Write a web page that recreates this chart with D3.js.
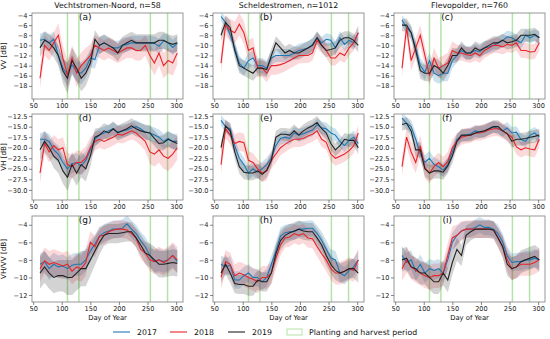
<!DOCTYPE html>
<html>
<head>
<meta charset="utf-8">
<script src="https://cdn.jsdelivr.net/npm/d3@7"></script>
<style>
  body { margin: 0; background: #fff; }
  svg { font-family: "DejaVu Sans", sans-serif; }
</style>
</head>
<body>
<svg id="chart" width="550" height="339"></svg>
<script>
// acquisition days (shared by all series)
var days = [62,70,78,86,94,102,110,118,126,134,142,150,158,166,174,182,190,198,206,214,222,230,238,246,254,262,270,278,286,294,302];

var sites = ["Vechtstromen-Noord, n=58", "Scheldestromen, n=1012", "Flevopolder, n=760"];
var rowLabels = ["VV [dB]", "VH [dB]", "VH/VV [dB]"];
var letters = ["(a)","(b)","(c)","(d)","(e)","(f)","(g)","(h)","(i)"];
var years = ["2017", "2018", "2019"];
var periodDays = [110, 130, 255, 285];
var xTicks = [50, 100, 150, 200, 250, 300];
var vvTicks = [-4, -6, -8, -10, -12, -14, -16, -18];
var vhTicks = [-12.5, -15, -17.5, -20, -22.5, -25, -27.5, -30];
var ratioTicks = [-4, -6, -8, -10, -12];

// (a) VV Vechtstromen-Noord
var a17 = [-9,-8.8,-9.5,-8.8,-12,-14.5,-15.8,-13.8,-15.2,-15.5,-14.5,-12.5,-12.8,-10,-9.5,-10,-10.5,-10.5,-10,-9.8,-9.5,-9.5,-9.5,-9.5,-9.5,-9.6,-10.2,-9.1,-9.5,-10.4,-9.6];
var a18 = [-16.5,-10,-11,-9.5,-8,-12.5,-15.8,-12.5,-15.5,-14,-13,-12,-10,-10.5,-11,-10.5,-11,-11.5,-11,-10.5,-10.5,-11,-11,-10,-12,-13.5,-11.5,-14,-13,-13.5,-11.5];
var a19 = [-10.5,-9,-9.5,-10.5,-12,-15,-16.5,-13,-14.5,-16.5,-15.5,-13.5,-8.8,-10,-9.5,-10,-10.5,-11.5,-10,-9.5,-9,-9.5,-9.5,-9.5,-9.5,-9.5,-9,-9,-9.5,-9.8,-9.5];
var a17sd = [1.3,1.5,1.5,1.6,1.8,2,2.3,2,2,2.2,2,1.8,1.8,1.6,1.5,1.4,1.4,1.4,1.4,1.4,1.4,1.4,1.4,1.4,1.4,1.4,1.5,1.5,1.5,1.5,1.5];
var a18sd = [2,2,2,2,2.3,2.5,2.8,2.5,2.8,2.6,2.5,2.2,2,2,2,2,2,2,2,2,2,2,2,2,2.2,2.4,2.5,2.5,2.5,2.5,2.3];
var a19sd = [1.8,1.8,1.8,1.9,2,2.5,3,2.6,2.6,2.6,2.5,2.2,1.8,1.7,1.7,1.7,1.7,1.7,1.7,1.7,1.7,1.7,1.7,1.7,1.7,1.7,1.7,1.7,1.7,1.7,1.7];

// (b) VV Scheldestromen
var b17 = [-4.3,-5.5,-8,-10.5,-13.5,-14.5,-13,-12.5,-14,-14,-14.5,-12.5,-12,-12,-12,-12,-11.5,-11,-10.8,-10.5,-9.8,-8.5,-9.5,-8.8,-9,-10.5,-8.5,-9.8,-9,-9.5,-7.5];
var b18 = [-13.5,-6,-7,-7.5,-5.8,-7.5,-11,-10.5,-14.5,-14.5,-15.5,-14,-14,-13.8,-13.5,-13,-12.5,-12,-12,-12,-11.5,-9,-10,-11,-12.5,-12.5,-11.5,-12,-10.5,-9.5,-7.5];
var b19 = [-8,-5.5,-6.5,-11,-14,-14.5,-15,-15.5,-14.5,-14.5,-14.8,-12,-9.5,-10.5,-11.5,-11,-11.5,-11.5,-11,-10.5,-10,-8.5,-10,-11,-10.8,-10.5,-9,-8.5,-8.5,-9,-10];
var b17sd = [1,1,1.2,1.3,1.5,1.5,1.5,1.5,1.5,1.5,1.5,1.4,1.3,1.3,1.3,1.3,1.3,1.3,1.3,1.3,1.3,1.2,1.2,1.2,1.2,1.3,1.3,1.3,1.3,1.3,1.3];
var b18sd = [2,2,2.2,2.2,2.2,2.2,2,2,1.8,1.8,1.8,1.8,1.8,1.7,1.6,1.6,1.6,1.6,1.5,1.5,1.5,1.5,1.5,1.5,1.5,1.5,1.5,1.5,1.5,1.5,1.5];
var b19sd = [1.2,1.3,1.4,1.5,1.5,1.5,1.5,1.5,1.5,1.5,1.5,1.4,1.3,1.3,1.3,1.3,1.3,1.3,1.3,1.3,1.3,1.3,1.3,1.3,1.3,1.3,1.3,1.3,1.3,1.3,1.3];

// (c) VV Flevopolder
var c17 = [-5,-6.5,-7.5,-10.5,-14,-15.3,-13,-15.5,-16,-15.5,-15.5,-13,-12,-11,-11.5,-11.5,-11,-11.3,-10.5,-10.3,-10,-9.5,-9,-8.3,-8.5,-9,-9.5,-8,-8.5,-8,-8.5];
var c18 = [-14.5,-6.5,-13,-10.5,-8,-12,-16,-12.5,-14.5,-14,-13.5,-11,-11.5,-11.5,-11.8,-12,-11.5,-12,-11,-10.5,-10,-10,-10.3,-9.8,-10,-9.5,-11,-11,-11.3,-11.2,-9.5];
var c19 = [-6,-6,-7.5,-11,-15,-15.5,-15.5,-14,-14.5,-15.5,-14,-12,-12,-10.5,-11.5,-11.5,-10.5,-11,-10.5,-10,-9.5,-9.5,-9,-9.5,-9.3,-9,-8,-8,-8,-7.8,-8.5];
var c17sd = [1,1.2,1.3,1.4,1.5,1.6,1.6,1.6,1.6,1.6,1.6,1.5,1.4,1.3,1.3,1.3,1.3,1.3,1.3,1.3,1.3,1.3,1.2,1.2,1.2,1.2,1.2,1.2,1.2,1.2,1.2];
var c18sd = [1.8,1.8,2,2,2,2,2,2,2,2,2,1.8,1.6,1.5,1.5,1.5,1.5,1.5,1.5,1.5,1.5,1.5,1.5,1.5,1.5,1.5,1.5,1.5,1.5,1.5,1.5];
var c19sd = [1.2,1.3,1.4,1.5,1.6,1.6,1.6,1.6,1.6,1.6,1.6,1.5,1.4,1.3,1.3,1.3,1.3,1.3,1.3,1.3,1.3,1.3,1.3,1.3,1.3,1.3,1.3,1.3,1.3,1.3,1.3];

// (d) VH Vechtstromen-Noord
var d17 = [-18,-18,-18.5,-20.5,-21.5,-23.5,-25,-23.8,-23.5,-24.3,-23,-20.5,-18,-17,-16.5,-16,-15.5,-16.3,-16,-15.8,-15.3,-15,-15.5,-16.3,-16.5,-17,-17.5,-18.5,-17.8,-18.5,-18.5];
var d18 = [-26,-19,-21,-19.5,-20.5,-20,-24,-24.5,-23.5,-23.5,-22.5,-20,-18.5,-18,-18.5,-18,-17.5,-16.8,-17,-16.5,-16,-16.5,-17.5,-18.5,-21,-21.5,-20.5,-22,-22.5,-21.5,-20];
var d19 = [-20.5,-18.5,-20,-22,-23,-25.5,-27,-24,-26,-24,-25,-22,-17.5,-17,-16,-16.5,-15.5,-16.5,-16,-15.5,-14.8,-15.5,-16,-16.3,-16.5,-17.8,-19,-18.8,-18,-18.5,-19];
var d17sd = [1.5,1.8,1.8,2,2,2,2.2,2.2,2.2,2.2,2.2,2,1.8,1.6,1.5,1.5,1.5,1.5,1.5,1.5,1.5,1.5,1.5,1.6,1.8,1.8,1.8,1.8,1.8,1.8,1.8];
var d18sd = [2.5,2.5,2.5,2.5,2.5,2.5,2.8,2.8,2.8,2.8,2.8,2.5,2.2,2,2,2,2,2,2,2,2,2,2,2.3,2.8,3,3,3,3,3,2.8];
var d19sd = [2.5,2.5,2.5,2.8,3,3,3.2,3,3,3,3,2.5,2,1.8,1.8,1.8,1.8,1.8,1.8,1.8,1.8,1.8,1.8,1.8,1.8,1.8,1.8,1.8,1.8,1.8,1.8];

// (e) VH Scheldestromen
var e17 = [-13.5,-15,-15.5,-19.5,-22.5,-24,-26,-25,-25.8,-25,-24,-22.5,-19.5,-17.8,-17.5,-17.8,-16.5,-17,-16.7,-16.2,-15.8,-14.5,-15.3,-15.5,-16.5,-17,-18.5,-19.5,-18.2,-17.5,-19];
var e18 = [-24,-15.5,-17,-19,-18.5,-18.8,-23,-23.5,-25,-26,-25.5,-23,-21.5,-20,-19.2,-18.5,-18,-18,-17.8,-17.2,-16.8,-16,-18,-18.7,-21.5,-22.5,-22,-21.5,-20.7,-19.5,-16.5];
var e19 = [-20,-14.8,-16,-21,-24.5,-25.8,-26,-26,-25.5,-26.3,-25.3,-23,-17.5,-16.8,-16.8,-17,-16,-17,-16,-15.3,-14.8,-14,-15.5,-16.5,-19,-20.5,-19.5,-18,-18.3,-18.2,-20];
var e17sd = [1.3,1.4,1.5,1.6,1.7,1.7,1.7,1.7,1.7,1.7,1.7,1.6,1.5,1.5,1.5,1.5,1.5,1.5,1.5,1.5,1.5,1.5,1.5,1.5,1.5,1.5,1.5,1.5,1.5,1.5,1.5];
var e18sd = [2.2,2.2,2.2,2.2,2.2,2.2,2.2,2.2,2.2,2.2,2.2,2,2,1.8,1.8,1.8,1.8,1.8,1.8,1.8,1.8,1.8,1.8,1.8,1.8,1.8,1.8,1.8,1.8,1.8,1.8];
var e19sd = [1.4,1.5,1.6,1.7,1.7,1.7,1.7,1.7,1.7,1.7,1.7,1.6,1.5,1.5,1.5,1.5,1.5,1.5,1.5,1.5,1.5,1.5,1.5,1.5,1.5,1.5,1.5,1.5,1.5,1.5,1.5];

// (f) VH Flevopolder
var f17 = [-13,-14.2,-15,-18,-21.5,-23.5,-22.5,-24,-24.5,-25.3,-24,-21,-18,-17.2,-17,-16.7,-16,-16.3,-16.2,-15.5,-15,-15.5,-16,-15.3,-16.5,-16.3,-18,-18.5,-17,-16.5,-17.5];
var f18 = [-24.5,-17.5,-21,-23.5,-19.5,-24.8,-26,-24.5,-23.5,-24.5,-23.3,-20,-18.5,-17.5,-17.2,-17,-16.5,-16.5,-16.2,-15.8,-15.5,-15.5,-16,-16.7,-17.5,-19.8,-20.5,-20,-20.3,-20.5,-18];
var f19 = [-14.5,-14.2,-16,-20.5,-20.5,-25,-26,-25.5,-25.5,-25.8,-24.3,-22,-18.5,-17,-17,-17,-16.5,-16.2,-16,-15.5,-15,-15,-16,-16.7,-18.5,-18,-18,-17.8,-17.5,-17.3,-17];
var f17sd = [1.3,1.4,1.5,1.6,1.7,1.7,1.7,1.7,1.7,1.7,1.7,1.6,1.5,1.4,1.4,1.4,1.4,1.4,1.4,1.4,1.4,1.4,1.4,1.4,1.4,1.4,1.4,1.4,1.4,1.4,1.4];
var f18sd = [2.2,2.2,2.5,2.5,2.5,2.5,2.5,2.3,2.3,2.3,2.3,2,1.8,1.8,1.8,1.8,1.8,1.8,1.8,1.8,1.8,1.8,1.8,1.8,1.8,1.8,1.8,1.8,1.8,1.8,1.8];
var f19sd = [1.4,1.5,1.6,1.7,1.8,1.8,1.8,1.8,1.8,1.8,1.8,1.7,1.5,1.5,1.5,1.5,1.5,1.5,1.5,1.5,1.5,1.5,1.5,1.5,1.5,1.5,1.5,1.5,1.5,1.5,1.5];

// (g) VH/VV Vechtstromen-Noord
var g17 = [-8.5,-8.2,-9,-8.5,-8.8,-8.7,-9,-8.6,-8.5,-8.5,-8,-7,-6.2,-5.3,-4.9,-4.7,-4.5,-4.5,-4.4,-3.9,-4.5,-5,-5.8,-6.5,-7.5,-8.2,-8,-8.2,-8,-7.5,-8.2];
var g18 = [-9,-8.1,-8.5,-8.3,-8.5,-8.7,-8.5,-9.3,-8.8,-9,-8.3,-6,-6.5,-5.3,-5.2,-4.8,-4.6,-4.5,-4.5,-4.6,-5,-5.5,-6.8,-7.2,-8,-8.2,-8,-8.3,-8,-7.5,-8];
var g19 = [-9.5,-8.8,-9.5,-10,-9.8,-9.8,-10,-10,-9.5,-9,-9,-8,-7,-6,-5.2,-5,-5,-5,-4.9,-4.8,-4.8,-5.5,-6.3,-7.2,-7.5,-8,-8.5,-8.5,-8.4,-8.3,-8.4];
var g17sd = [1.2,1.2,1.3,1.3,1.3,1.3,1.3,1.3,1.3,1.3,1.3,1.2,1.1,1,1,1,1,1,1,1,1,1,1,1.1,1.2,1.2,1.3,1.3,1.3,1.3,1.3];
var g18sd = [1.5,1.5,1.5,1.5,1.5,1.5,1.5,1.5,1.5,1.5,1.5,1.3,1.2,1.1,1,1,1,1,1,1,1,1,1.1,1.2,1.3,1.4,1.5,1.5,1.5,1.5,1.5];
var g19sd = [1.8,1.8,1.8,1.8,1.8,1.8,2,2,2,2,2,1.8,1.6,1.4,1.2,1.1,1.1,1.1,1.1,1.1,1.1,1.1,1.2,1.3,1.4,1.5,1.5,1.5,1.5,1.5,1.5];

// (h) VH/VV Scheldestromen
var h17 = [-8.5,-8.8,-8.6,-10.3,-10.3,-9.8,-9.5,-10,-10,-10.5,-10,-8.5,-7,-5.3,-4.9,-4.8,-4.8,-4.5,-4.5,-4.4,-4.4,-5,-5.8,-6.8,-7.8,-8,-9.5,-9.8,-9.2,-8.8,-8];
var h18 = [-10,-8.2,-8.5,-9.8,-9.5,-9.7,-10,-10.2,-10.5,-10,-10,-9.5,-7.8,-6.3,-5.5,-5.4,-5,-5.2,-5,-5.5,-5.6,-6.5,-7.3,-8,-9,-9.5,-9.5,-9.3,-9,-9.2,-8];
var h19 = [-9.5,-8.5,-9.5,-10.7,-10.8,-10.8,-11,-11,-10.3,-10.5,-10.5,-9.5,-7.3,-5.8,-5.2,-4.9,-4.7,-4.5,-4.7,-4.8,-4.8,-5.5,-6.3,-7.5,-8.5,-9.2,-9.5,-9.3,-9,-9,-9.5];
var h17sd = [1,1,1,1,1,1,1,1,1,1,1,1,1,1,0.9,0.9,0.9,0.9,0.9,0.9,0.9,0.9,1,1,1,1,1,1,1,1,1];
var h18sd = [1.3,1.3,1.3,1.3,1.3,1.3,1.3,1.3,1.3,1.3,1.3,1.3,1.3,1.2,1.1,1.1,1.1,1.1,1.1,1.1,1.1,1.1,1.2,1.3,1.3,1.3,1.3,1.3,1.3,1.3,1.3];
var h19sd = [1.1,1.1,1.1,1.1,1.1,1.1,1.1,1.1,1.1,1.1,1.1,1.1,1.1,1.1,1,1,1,1,1,1,1,1,1,1.1,1.1,1.1,1.1,1.1,1.1,1.1,1.1];

// (i) VH/VV Flevopolder
var i17 = [-7.5,-8.3,-8,-9.3,-8.5,-9.5,-9,-9.2,-9,-9.5,-8,-6,-5.2,-4.7,-4.5,-4.5,-4.3,-4,-4.3,-4.3,-4.5,-5,-6,-7.5,-8.3,-8.2,-8.2,-8,-8,-7.8,-8];
var i18 = [-9,-8,-8.8,-9.2,-9.5,-9.8,-10,-9.8,-9.8,-9.5,-7.5,-5.5,-5.2,-4.7,-4.5,-4.5,-4.5,-4.5,-4.5,-4.5,-4.6,-5.5,-6.5,-8,-9,-8.8,-8.5,-8.5,-8.5,-8.3,-8];
var i19 = [-8,-7.8,-8.8,-9,-9.5,-9.5,-10,-10.5,-10.5,-9.5,-10.3,-8.3,-6.8,-7.5,-5.2,-4.8,-4.5,-4.5,-4.5,-4.5,-4.6,-5.5,-6.5,-8.5,-9,-8.8,-8.2,-8,-7.8,-7.6,-8];
var i17sd = [1.1,1.1,1.1,1.1,1.1,1.1,1.1,1.1,1.1,1.1,1.1,1.1,1,1,0.9,0.9,0.9,0.9,0.9,0.9,0.9,1,1,1,1,1,1,1,1,1,1];
var i18sd = [1.4,1.4,1.4,1.4,1.4,1.4,1.4,1.4,1.4,1.4,1.4,1.3,1.2,1.1,1,1,1,1,1,1,1,1.1,1.2,1.3,1.3,1.3,1.3,1.3,1.3,1.3,1.3];
var i19sd = [1.3,1.3,1.3,1.3,1.3,1.3,1.4,1.4,1.4,1.4,1.4,1.4,1.3,1.2,1.1,1,1,1,1,1,1,1.1,1.2,1.3,1.3,1.3,1.3,1.3,1.3,1.3,1.3];

var yearColors = ["#1f77b4", "#e8252a", "#222222"];
var bandOpacity = [0.22, 0.18, 0.2];
var greenLine = "#b4e2a8";

var panelData = [
  [[a17, a17sd], [a18, a18sd], [a19, a19sd]],
  [[b17, b17sd], [b18, b18sd], [b19, b19sd]],
  [[c17, c17sd], [c18, c18sd], [c19, c19sd]],
  [[d17, d17sd], [d18, d18sd], [d19, d19sd]],
  [[e17, e17sd], [e18, e18sd], [e19, e19sd]],
  [[f17, f17sd], [f18, f18sd], [f19, f19sd]],
  [[g17, g17sd], [g18, g18sd], [g19, g19sd]],
  [[h17, h17sd], [h18, h18sd], [h19, h19sd]],
  [[i17, i17sd], [i18, i18sd], [i19, i19sd]]
];
var rowTicks = [vvTicks, vhTicks, ratioTicks];
var rowDomains = [[-20.6, -3.6], [-32.4, -12.0], [-12.8, -3.0]];
var rowFormats = [d3.format("d"), d3.format(".1f"), d3.format("d")];

// layout
var colX = [32, 213, 394],
    rowY = [13, 114, 216],
    panelW = 151,
    panelH = 86;

var svg = d3.select("#chart");

panelData.forEach(function (series, p) {
  var row = Math.floor(p / 3), col = p % 3;
  var g = svg.append("g").attr("transform", "translate(" + colX[col] + "," + rowY[row] + ")");

  var x = d3.scaleLinear().domain([48, 312]).range([0, panelW]);
  var y = d3.scaleLinear().domain(rowDomains[row]).range([panelH, 0]);

  var clipId = "clip" + p;
  g.append("clipPath").attr("id", clipId)
    .append("rect").attr("width", panelW).attr("height", panelH);

  var plot = g.append("g").attr("clip-path", "url(#" + clipId + ")");

  // planting / harvest lines
  plot.selectAll("line.period").data(periodDays).enter().append("line")
    .attr("class", "period")
    .attr("x1", function (d) { return x(d); })
    .attr("x2", function (d) { return x(d); })
    .attr("y1", 0).attr("y2", panelH)
    .attr("stroke", greenLine).attr("stroke-width", 1.5);

  var area = d3.area()
    .x(function (d, i) { return x(days[i]); })
    .y0(function (d) { return y(d[0] - d[1]); })
    .y1(function (d) { return y(d[0] + d[1]); });

  var line = d3.line()
    .x(function (d, i) { return x(days[i]); })
    .y(function (d) { return y(d); });

  series.forEach(function (s, k) {
    var pairs = s[0].map(function (m, i) { return [m, s[1][i]]; });
    plot.append("path").datum(pairs)
      .attr("d", area)
      .attr("fill", yearColors[k])
      .attr("fill-opacity", bandOpacity[k]);
  });

  series.forEach(function (s, k) {
    plot.append("path").datum(s[0])
      .attr("d", line)
      .attr("fill", "none")
      .attr("stroke", yearColors[k])
      .attr("stroke-width", 1.1);
  });

  // frame
  g.append("rect").attr("width", panelW).attr("height", panelH)
    .attr("fill", "none").attr("stroke", "#8c8c8c").attr("stroke-width", 0.9);

  var xAxis = g.append("g").attr("transform", "translate(0," + panelH + ")")
    .call(d3.axisBottom(x).tickValues(xTicks).tickSize(3).tickPadding(1.5));
  var yAxis = g.append("g")
    .call(d3.axisLeft(y).tickValues(rowTicks[row]).tickFormat(rowFormats[row]).tickSize(3).tickPadding(1.5));

  [xAxis, yAxis].forEach(function (ax) {
    ax.select(".domain").remove();
    ax.selectAll("line").attr("stroke", "#555").attr("stroke-width", 0.7);
    ax.selectAll("text").attr("fill", "#222").style("font-size", "6.6px")
      .style("font-family", "DejaVu Sans");
  });

  // panel letter
  g.append("text")
    .attr("x", x(141)).attr("y", 7)
    .attr("text-anchor", "middle")
    .style("font-size", "9px").attr("fill", "#111")
    .text(letters[p]);

  if (row === 0) {
    g.append("text")
      .attr("x", panelW / 2).attr("y", -5)
      .attr("text-anchor", "middle")
      .style("font-size", "7.8px").attr("fill", "#111")
      .text(sites[col]);
  }
  if (row === 2) {
    g.append("text")
      .attr("x", panelW / 2).attr("y", panelH + 18)
      .attr("text-anchor", "middle")
      .style("font-size", "6.8px").attr("fill", "#111")
      .text("Day of Year");
  }
  if (col === 0) {
    g.append("text")
      .attr("transform", "translate(-26," + (panelH / 2) + ") rotate(-90)")
      .attr("text-anchor", "middle")
      .style("font-size", "7.2px").attr("fill", "#111")
      .text(rowLabels[row]);
  }
});

// legend
var legend = svg.append("g").attr("transform", "translate(0,332)");
var legendX = [113, 170, 228];
years.forEach(function (yr, k) {
  legend.append("line")
    .attr("x1", legendX[k]).attr("x2", legendX[k] + 17)
    .attr("y1", 0).attr("y2", 0)
    .attr("stroke", yearColors[k]).attr("stroke-width", 1.1);
  legend.append("text")
    .attr("x", legendX[k] + 24).attr("y", 3)
    .style("font-size", "7.8px").attr("fill", "#111")
    .text(yr);
});
legend.append("rect")
  .attr("x", 287).attr("y", -3).attr("width", 15).attr("height", 6)
  .attr("fill", "none").attr("stroke", greenLine).attr("stroke-width", 1);
legend.append("text")
  .attr("x", 309).attr("y", 3)
  .style("font-size", "7.8px").attr("fill", "#111")
  .text("Planting and harvest period");
</script>
</body>
</html>
